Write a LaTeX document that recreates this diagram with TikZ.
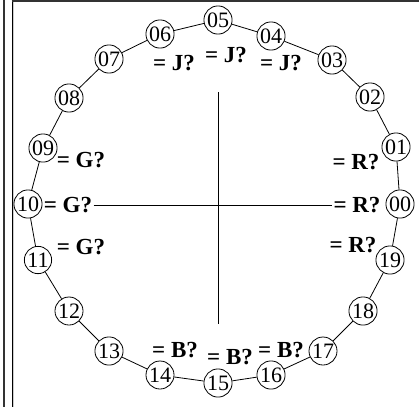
\documentclass[tikz,border=0pt]{standalone}
\usepackage{fontspec}
\setmainfont{Liberation Serif}
\usetikzlibrary{calc}

\begin{document}
\begin{tikzpicture}[x=1pt, y=-1pt, line width=0.8pt,
  num/.style={draw, circle, inner sep=0.6pt, font=\fontsize{22}{22}\selectfont},
  lab/.style={font=\fontsize{23}{23}\selectfont\bfseries, inner sep=1pt}]
  \useasboundingbox (0,0) rectangle (419,407);
  % frame
  \draw[black!80, line width=1.8pt] (4,0) -- (4,407);
  \draw[gray!40, line width=1pt] (13.6,1.5) -- (13.6,407);
  \draw[black, line width=1pt] (12,0) -- (12,407);
  \draw[black!80, line width=1.6pt] (11.5,0.8) -- (419,0.8);
  % ring
  \foreach \i/\x/\y in {00/400/204, 01/396/147, 02/370/97, 03/332/60,
      04/271/36, 05/218/20, 06/160/34, 07/109/59, 08/69/98, 09/43/148,
      10/28/204, 11/38/260, 12/69/311, 13/109/351, 14/160/375,
      15/218/383, 16/271/375, 17/323/351, 18/363/311, 19/390/260}
    \node[num] (n\i) at (\x,\y) {\i};
  \foreach \i/\j in {00/01, 01/02, 02/03, 03/04, 04/05, 05/06, 06/07,
      07/08, 08/09, 09/10, 10/11, 11/12, 12/13, 13/14, 14/15, 15/16,
      16/17, 17/18, 18/19, 19/00}
    \draw (n\i) -- (n\j);
  % guesses
  \foreach \nm/\x/\y/\c in {j06/174/63/J, j05/226/55/J, j04/281/63/J,
      g09/81/160/G, g10/68/205/G, g11/81/247/G,
      r01/356/162/R, r00/357/205/R, r19/353/245/R,
      b14/175/350/B, b15/230/357/B, b16/281/350/B}
    \node[lab] (\nm) at (\x,\y) {= \c?};
  \coordinate (top) at (218,92);
  \coordinate (bot) at (218,324);
  \draw (top) -- (bot);
  \draw (g10) -- (r00);
\end{tikzpicture}
\end{document}
